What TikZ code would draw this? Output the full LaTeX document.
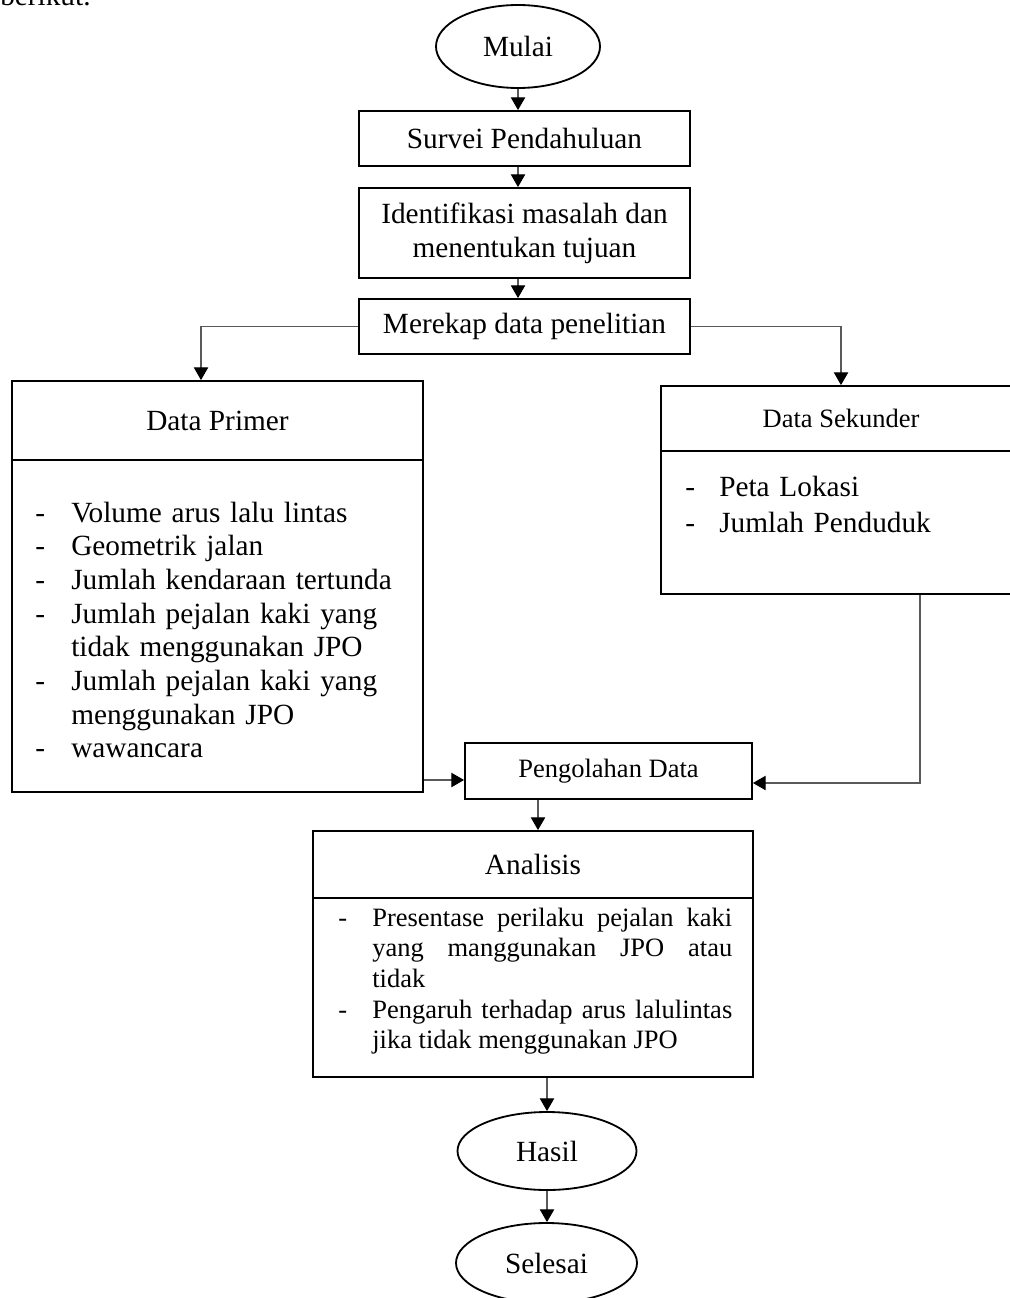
\documentclass[tikz,border=0pt]{standalone}
\usepackage{fontspec}
\setmainfont{Liberation Serif}
\usepackage{tikz}
\usetikzlibrary{shapes.geometric,arrows.meta}

\tikzset{
  box/.style={draw, rectangle, line width=1.3pt, inner sep=0pt, align=center,
    font=\fontsize{20.84}{23.97}\selectfont},
  oval/.style={draw, ellipse, line width=1.3pt, inner sep=0pt,
    font=\fontsize{20.84}{23.97}\selectfont},
  smallbox/.style={box, font=\fontsize{18.85}{21.84}\selectfont},
  itemlist/.style={anchor=base west, inner sep=0pt, align=left},
  conn/.style={draw=black!65, line width=0.8pt,
    -{Triangle[width=0.36cm, length=0.32cm, color=black]}}
}

\begin{document}
\begin{tikzpicture}
  \useasboundingbox (0,0) rectangle (25.225,-32.45);
  % Text above
  \node[anchor=base west, inner sep=0pt, font=\fontsize{20.84}{23.97}\selectfont] (berikut) at (0, -0.15) {berikut.};
  % Start
  \node[oval, minimum width=4.1cm, minimum height=2.075cm] at (12.95, -1.1625) (mulai) {Mulai};
  \node[box, minimum width=8.275cm, minimum height=1.375cm] at (13.1125, -3.4625) (survei) {Survei Pendahuluan};
  \node[box, minimum width=8.275cm, minimum height=2.25cm] at (13.1125, -5.825) (identifikasi) {Identifikasi masalah dan \\ menentukan tujuan};
  \node[box, minimum width=8.275cm, minimum height=1.375cm] at (13.1125, -8.1625) (merekap) {Merekap data penelitian};
  % Primary data
  \node[box, minimum width=10.275cm, minimum height=1.975cm] at (5.4375, -10.5125) (primerhead) {Data Primer};
  \node[box, minimum width=10.275cm, minimum height=8.3cm] at (5.4375, -15.65) (primerbody) {};
  \node[itemlist, text width=9.5cm, font=\fontsize{20.84}{23.97}\selectfont] at (0.875, -13.05) (primerlist)
    {\makebox[0.9cm][l]{-}Volume arus lalu lintas \\
     \makebox[0.9cm][l]{-}Geometrik jalan \\
     \makebox[0.9cm][l]{-}Jumlah kendaraan tertunda \\
     \makebox[0.9cm][l]{-}Jumlah pejalan kaki yang \\
     \hspace*{0.9cm}tidak menggunakan JPO \\
     \makebox[0.9cm][l]{-}Jumlah pejalan kaki yang \\
     \hspace*{0.9cm}menggunakan JPO \\
     \makebox[0.9cm][l]{-}wawancara};
  % Secondary data
  \node[smallbox, minimum width=9cm, minimum height=1.625cm] at (21.025, -10.4625) (sekunderhead) {Data Sekunder};
  \node[box, minimum width=9cm, minimum height=3.575cm] at (21.025, -13.07) (sekunderbody) {};
  \node[itemlist, text width=7.5cm, font=\fontsize{20.84}{26.3}\selectfont] at (17.125, -12.4) (sekunderlist)
    {\makebox[0.85cm][l]{-}Peta Lokasi \\
     \makebox[0.85cm][l]{-}Jumlah Penduduk};
  % Processing and analysis
  \node[smallbox, minimum width=7.175cm, minimum height=1.4cm] at (15.2125, -19.275) (pengolahan) {Pengolahan Data};
  \node[box, minimum width=11cm, minimum height=1.675cm] at (13.325, -21.6125) (analisishead) {Analisis};
  \node[box, minimum width=11cm, minimum height=4.475cm] at (13.325, -24.6875) (analisisbody) {};
  \node[anchor=base west, inner sep=0pt, text width=9.85cm, align=justify,
    font=\fontsize{18.85}{21.84}\selectfont] at (8.45, -23.15) (analisislist)
    {\hyphenpenalty=10000 \exhyphenpenalty=10000
     \hangindent=0.85cm \hangafter=1 \noindent\makebox[0.85cm][l]{-}Presentase perilaku pejalan kaki yang manggunakan JPO atau\linebreak tidak\par
     \hangindent=0.85cm \hangafter=1 \noindent\makebox[0.85cm][l]{-}Pengaruh terhadap arus lalulintas jika tidak menggunakan JPO\par};
  % End
  \node[oval, minimum width=4.475cm, minimum height=1.95cm] at (13.675, -28.775) (hasil) {Hasil};
  \node[oval, minimum width=4.525cm, minimum height=2cm] at (13.6625, -31.575) (selesai) {Selesai};
  % Arrows
  \draw[conn] (mulai.south) -- (mulai.south |- survei.north);
  \draw[conn] (survei.south -| mulai) -- (identifikasi.north -| mulai);
  \draw[conn] (identifikasi.south -| mulai) -- (merekap.north -| mulai);
  \draw[conn] (merekap.west) -| ([xshift=-0.4125cm]primerhead.north);
  \draw[conn] (merekap.east) -| (sekunderhead.north);
  \coordinate (pin) at ([yshift=-0.225cm]pengolahan.west);
  \draw[conn] (primerbody.east |- pin) -- (pin);
  \coordinate (sin) at ([yshift=-0.3cm]pengolahan.east);
  \draw[conn] ([xshift=1.975cm]sekunderbody.south) |- (sin);
  \coordinate (pout) at ([xshift=-1.7625cm]pengolahan.south);
  \draw[conn] (pout) -- (pout |- analisishead.north);
  \draw[conn] (analisisbody.south -| hasil) -- (hasil.north);
  \draw[conn] (hasil.south) -- (hasil.south |- selesai.north);
\end{tikzpicture}
\end{document}
